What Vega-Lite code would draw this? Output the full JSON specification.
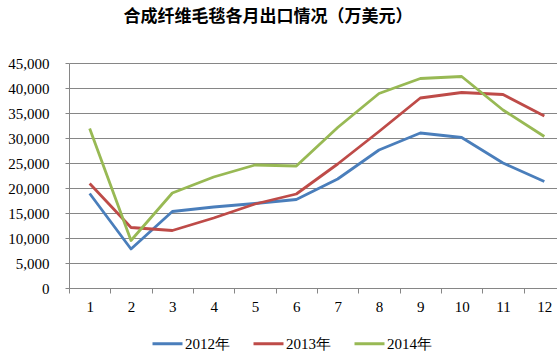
{
  "$schema": "https://vega.github.io/schema/vega-lite/v6.json",
  "autosize": {"type": "none"},
  "padding": {"left": 69, "top": 63, "right": 0, "bottom": 71},
  "width": 488,
  "height": 225,
  "background": "white",
  "title": {
    "text": "合成纤维毛毯各月出口情况（万美元）",
    "font": "Noto Sans CJK SC",
    "fontSize": 17,
    "fontWeight": "bold",
    "color": "#000000",
    "anchor": "middle",
    "frame": "group",
    "dx": -45,
    "offset": 30
  },
  "data": {
    "values": [
      {"month": 1, "series": "2012年", "value": 18900},
      {"month": 2, "series": "2012年", "value": 7800},
      {"month": 3, "series": "2012年", "value": 15300},
      {"month": 4, "series": "2012年", "value": 16200},
      {"month": 5, "series": "2012年", "value": 16900},
      {"month": 6, "series": "2012年", "value": 17700},
      {"month": 7, "series": "2012年", "value": 21800},
      {"month": 8, "series": "2012年", "value": 27600},
      {"month": 9, "series": "2012年", "value": 31000},
      {"month": 10, "series": "2012年", "value": 30100},
      {"month": 11, "series": "2012年", "value": 25000},
      {"month": 12, "series": "2012年", "value": 21300},
      {"month": 1, "series": "2013年", "value": 20900},
      {"month": 2, "series": "2013年", "value": 12100},
      {"month": 3, "series": "2013年", "value": 11500},
      {"month": 4, "series": "2013年", "value": 14000},
      {"month": 5, "series": "2013年", "value": 16800},
      {"month": 6, "series": "2013年", "value": 18800},
      {"month": 7, "series": "2013年", "value": 24800},
      {"month": 8, "series": "2013年", "value": 31300},
      {"month": 9, "series": "2013年", "value": 38000},
      {"month": 10, "series": "2013年", "value": 39100},
      {"month": 11, "series": "2013年", "value": 38700},
      {"month": 12, "series": "2013年", "value": 34400},
      {"month": 1, "series": "2014年", "value": 31900},
      {"month": 2, "series": "2014年", "value": 9500},
      {"month": 3, "series": "2014年", "value": 19000},
      {"month": 4, "series": "2014年", "value": 22200},
      {"month": 5, "series": "2014年", "value": 24600},
      {"month": 6, "series": "2014年", "value": 24400},
      {"month": 7, "series": "2014年", "value": 32100},
      {"month": 8, "series": "2014年", "value": 38900},
      {"month": 9, "series": "2014年", "value": 41900},
      {"month": 10, "series": "2014年", "value": 42300},
      {"month": 11, "series": "2014年", "value": 35600},
      {"month": 12, "series": "2014年", "value": 30300}
    ]
  },
  "mark": {"type": "line", "strokeWidth": 2.8, "strokeJoin": "round"},
  "encoding": {
    "x": {
      "field": "month",
      "type": "ordinal",
      "scale": {"type": "band", "paddingInner": 0, "paddingOuter": 0, "range": [0, 496]},
      "axis": {
        "title": null,
        "labelAngle": 0,
        "labelFont": "Liberation Serif",
        "labelFontSize": 15,
        "labelColor": "#000000",
        "labelPadding": 6,
        "tickBand": "extent",
        "tickSize": 5,
        "tickColor": "#868686",
        "domainColor": "#868686",
        "grid": false
      }
    },
    "y": {
      "field": "value",
      "type": "quantitative",
      "scale": {"domain": [0, 45000], "nice": false},
      "axis": {
        "title": null,
        "values": [0, 5000, 10000, 15000, 20000, 25000, 30000, 35000, 40000, 45000],
        "format": ",.0f",
        "labelFont": "Liberation Serif",
        "labelFontSize": 15,
        "labelColor": "#000000",
        "labelPadding": 16,
        "tickSize": 4,
        "tickColor": "#868686",
        "domainColor": "#868686",
        "grid": true,
        "gridColor": "#868686",
        "gridWidth": 1
      }
    },
    "color": {
      "field": "series",
      "type": "nominal",
      "scale": {"domain": ["2012年", "2013年", "2014年"], "range": ["#4A7EBB", "#BE4B48", "#98B954"]},
      "legend": {
        "title": null,
        "orient": "none",
        "legendX": 82,
        "legendY": 264,
        "direction": "horizontal",
        "symbolType": "stroke",
        "symbolSize": 900,
        "symbolStrokeWidth": 3,
        "labelFont": "Liberation Serif",
        "labelFontSize": 15,
        "labelColor": "#000000",
        "labelOffset": 1,
        "columnPadding": 17
      }
    }
  },
  "config": {"view": {"stroke": null}}
}
